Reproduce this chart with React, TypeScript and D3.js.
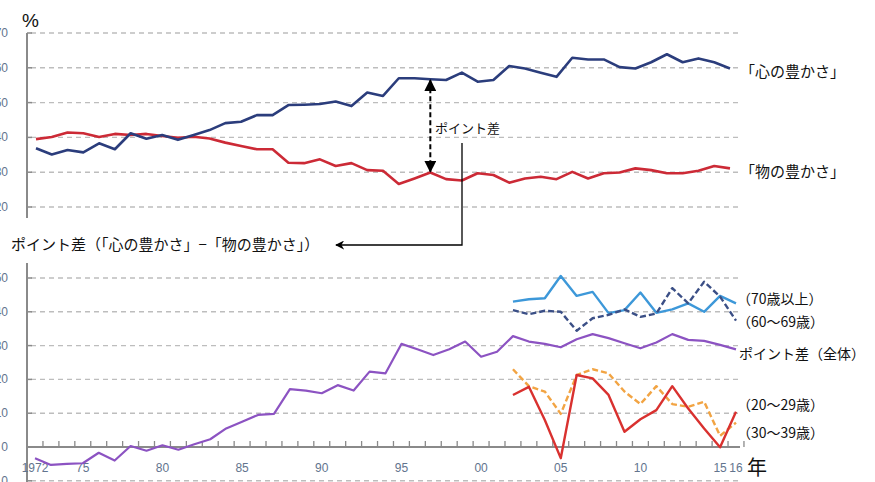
import * as d3 from "d3";

// survey years (categories)
const YEARS = [
  1972, 1973, 1974, 1975, 1976, 1977, 1978, 1979, 1980, 1981,
  1982, 1983, 1984, 1985, 1986, 1987, 1988, 1989, 1990, 1991,
  1992, 1993, 1994, 1995, 1996, 1997, 1998, 1999, 2000, 2001,
  2002, 2003, 2004, 2005, 2006, 2007, 2008, 2009, 2010, 2011,
  2012, 2013, 2014, 2015, 2016,
];
const AGE_YEARS = [
  2002, 2003, 2004, 2005, 2006, 2007, 2008, 2009, 2010, 2011,
  2012, 2013, 2014, 2015, 2016,
];

// 「心の豊かさ」 %
const KOKORO = [
  36.9, 35.1, 36.4, 35.7, 38.3, 36.6, 41.2, 39.6, 40.7, 39.3,
  40.7, 42.1, 44.1, 44.5, 46.4, 46.4, 49.3, 49.4, 49.6, 50.3,
  49.0, 52.9, 51.9, 57.0, 57.0, 56.7, 56.5, 58.6, 56.0, 56.5,
  60.5, 59.8, 58.6, 57.4, 62.9, 62.4, 62.4, 60.2, 59.8, 61.6,
  63.9, 61.6, 62.7, 61.6, 59.8,
];
// 「物の豊かさ」 %
const MONO = [
  39.5, 40.1, 41.4, 41.2, 40.1, 41.0, 40.7, 41.0, 40.4, 39.9,
  40.2, 39.7, 38.5, 37.5, 36.6, 36.6, 32.7, 32.6, 33.7, 31.8,
  32.6, 30.6, 30.4, 26.6, 28.2, 29.9, 28.0, 27.6, 29.7, 29.2,
  27.0, 28.2, 28.7, 28.0, 30.1, 28.2, 29.7, 29.9, 31.1, 30.6,
  29.7, 29.7, 30.4, 31.8, 31.1,
];
// ポイント差（全体）
const DIFF_ALL = [
  -3.3, -5.3, -5.0, -4.8, -1.7, -4.0, 0.3, -1.1, 0.5, -0.8,
  0.8, 2.3, 5.5, 7.5, 9.5, 9.8, 17.1, 16.7, 15.9, 18.3,
  16.7, 22.3, 21.8, 30.5, 28.9, 27.2, 28.9, 31.2, 26.7, 28.2,
  32.8, 31.2, 30.5, 29.5, 31.9, 33.4, 32.2, 30.7, 29.2, 30.9,
  33.4, 31.7, 31.4, 30.2, 28.9,
];
const DIFF_70 = [43.0, 43.7, 44.0, 50.6, 44.7, 45.9, 39.6, 40.5, 45.7, 39.7, 40.7, 42.5, 40.0, 44.7, 42.5];
const DIFF_60 = [40.5, 39.3, 40.3, 40.0, 34.4, 38.1, 39.1, 40.7, 38.5, 39.5, 47.0, 42.5, 48.9, 44.5, 37.4];
const DIFF_20 = [23.0, 18.0, 16.4, 9.8, 21.3, 23.0, 21.8, 16.4, 12.7, 18.0, 12.7, 11.9, 13.4, 3.3, 7.2];
const DIFF_30 = [15.4, 17.8, 8.0, -3.3, 21.3, 20.3, 15.4, 4.5, 8.2, 10.9, 18.0, 11.4, 5.5, -0.1, 10.4];

const TOP_TICKS = [70, 60, 50, 40, 30, 20];
const BOTTOM_TICKS = [50, 40, 30, 20, 10, 0, -10];
const X_LABEL_YEARS = [1972, 1975, 1980, 1985, 1990, 1995, 2000, 2005, 2010, 2015, 2016];
const X_LABELS = ["1972", "75", "80", "85", "90", "95", "00", "05", "10", "15", "16"];

const W = 875;
const H = 482;
const JP = "'Noto Sans CJK JP', 'Noto Sans', sans-serif";
const AXIS = "#8a8a8a";
const GRID = "#bdbdbd";
const TICK_TEXT = "#62748e";

export default function App() {
  // top panel
  const xTop = d3.scaleLinear().domain([1972, 2016]).range([36, 730]);
  const yTop = d3.scaleLinear().domain([20, 70]).range([207, 33]);
  // bottom panel
  const xBot = d3.scaleLinear().domain([1972, 2016]).range([35, 736]);
  const yBot = d3.scaleLinear().domain([0, 50]).range([447, 278]);

  const topLine = (vals: number[]) =>
    d3.line<number>().x((_, i) => xTop(YEARS[i])).y((v) => yTop(v))(vals) || "";
  const botLine = (years: number[], vals: number[]) =>
    d3.line<number>().x((_, i) => xBot(years[i])).y((v) => yBot(v))(vals) || "";

  const ai = YEARS.indexOf(1997);
  const ax = xTop(1997);
  const ay1 = yTop(KOKORO[ai]);
  const ay2 = yTop(MONO[ai]);

  const ageSeries = [
    { vals: DIFF_70, color: "#3d98d9", dash: "" },
    { vals: DIFF_60, color: "#3b4f86", dash: "6,3" },
    { vals: DIFF_20, color: "#f2a443", dash: "6,3" },
    { vals: DIFF_30, color: "#d9312f", dash: "" },
  ];

  return (
    <div style={{ position: "absolute", left: 0, top: 0 }}>
      <svg width={W} height={H} style={{ display: "block", background: "#fff" }}>
        <defs>
          <marker id="ah" viewBox="0 0 10 10" refX="9" refY="5" markerWidth="6" markerHeight="6" orient="auto-start-reverse">
            <path d="M0,0 L10,5 L0,10 z" fill="#000" />
          </marker>
          <marker id="ah2" viewBox="0 0 10 10" refX="9" refY="5" markerWidth="9" markerHeight="9" orient="auto"
            markerUnits="userSpaceOnUse">
            <path d="M0,0 L10,5 L0,10 L3,5 z" fill="#000" />
          </marker>
        </defs>

        {/* ---------- top panel ---------- */}
        <text x={22} y={27} fontFamily="'Liberation Sans', sans-serif" fontSize={19} fill="#111">%</text>
        {TOP_TICKS.map((t) => (
          <g key={"tg" + t}>
            <line x1={31} x2={740} y1={yTop(t)} y2={yTop(t)} stroke={GRID} strokeWidth={1.4} strokeDasharray="5,4" />
            <line x1={27} x2={32} y1={yTop(t)} y2={yTop(t)} stroke={AXIS} strokeWidth={1.5} />
            <text x={8} y={yTop(t) + 4} textAnchor="end" fontFamily="'Liberation Sans', sans-serif" fontSize={12} fill={TICK_TEXT}>{t}</text>
          </g>
        ))}
        <line x1={27} x2={27} y1={33} y2={218} stroke={AXIS} strokeWidth={2} />

        <path d={topLine(MONO)} fill="none" stroke="#cc2a36" strokeWidth={2.6} strokeLinejoin="round" />
        <path d={topLine(KOKORO)} fill="none" stroke="#2b3d7c" strokeWidth={2.6} strokeLinejoin="round" />

        {/* point-difference arrow */}
        <line x1={ax} x2={ax} y1={ay1 + 1} y2={ay2 - 1} stroke="#000" strokeWidth={2} strokeDasharray="5,3"
          markerStart="url(#ah)" markerEnd="url(#ah)" />
        <text x={435} y={133} fontFamily={JP} fontSize={13} fill="#111">ポイント差</text>
        <polyline points="462,143 462,245 336,245" fill="none" stroke="#000" strokeWidth={1.3} markerEnd="url(#ah2)" />

        <text x={740} y={77} fontFamily={JP} fontSize={15} fill="#111">「心の豊かさ」</text>
        <text x={740} y={177} fontFamily={JP} fontSize={15} fill="#111">「物の豊かさ」</text>

        <text x={11} y={250} fontFamily={JP} fontSize={15} fill="#111">ポイント差（「心の豊かさ」−「物の豊かさ」）</text>

        {/* ---------- bottom panel ---------- */}
        {BOTTOM_TICKS.map((t) => (
          <g key={"bg" + t}>
            {t !== 0 && (
              <line x1={31} x2={740} y1={yBot(t)} y2={yBot(t)} stroke={GRID} strokeWidth={1.4} strokeDasharray="5,4" />
            )}
            <line x1={27} x2={32} y1={yBot(t)} y2={yBot(t)} stroke={AXIS} strokeWidth={1.5} />
            <text x={8} y={yBot(t) + 4} textAnchor="end" fontFamily="'Liberation Sans', sans-serif" fontSize={12} fill={TICK_TEXT}>{t}</text>
          </g>
        ))}
        <line x1={27} x2={27} y1={263} y2={H} stroke={AXIS} strokeWidth={2} />
        <line x1={27} x2={740} y1={yBot(0)} y2={yBot(0)} stroke={AXIS} strokeWidth={2} />
        {YEARS.map((yr) => (
          <line key={"xt" + yr} x1={xBot(yr + 0.5)} x2={xBot(yr + 0.5)} y1={yBot(0)} y2={yBot(0) - 6} stroke={AXIS} strokeWidth={1.3} />
        ))}
        {X_LABEL_YEARS.map((yr, i) => (
          <text key={"xl" + yr} x={xBot(yr)} y={472} textAnchor="middle" fontFamily="'Liberation Sans', sans-serif"
            fontSize={12} fill={TICK_TEXT}>{X_LABELS[i]}</text>
        ))}
        <text x={747} y={475} fontFamily={JP} fontSize={20} fill="#111">年</text>

        <path d={botLine(YEARS, DIFF_ALL)} fill="none" stroke="#8c53c2" strokeWidth={2.2} strokeLinejoin="round" />
        {ageSeries.map((s, i) => (
          <path key={"age" + i} d={botLine(AGE_YEARS, s.vals)} fill="none" stroke={s.color}
            strokeWidth={2.4} strokeDasharray={s.dash || undefined} strokeLinejoin="round" />
        ))}

        <text x={737} y={304} fontFamily={JP} fontSize={14} fill="#111">（70歳以上）</text>
        <text x={737} y={327} fontFamily={JP} fontSize={14} fill="#111">（60～69歳）</text>
        <text x={739} y={359} fontFamily={JP} fontSize={14} fill="#111">ポイント差（全体）</text>
        <text x={737} y={410} fontFamily={JP} fontSize={14} fill="#111">（20～29歳）</text>
        <text x={737} y={438} fontFamily={JP} fontSize={14} fill="#111">（30～39歳）</text>
      </svg>
    </div>
  );
}
